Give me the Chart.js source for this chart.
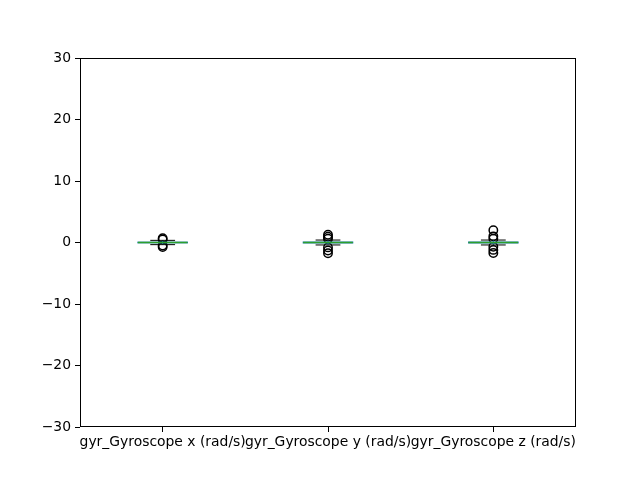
<!DOCTYPE html>
<html>
<head>
<meta charset="utf-8">
<script src="https://cdn.jsdelivr.net/npm/chart.js@4/dist/chart.umd.min.js"></script>
<style>
  html, body { margin: 0; padding: 0; background: #fff; }
  canvas { display: block; }
</style>
</head>
<body>
<canvas id="box-chart" width="640" height="480"></canvas>
<script>
// box statistics per column (rad/s)
const categories = ['gyr_Gyroscope x (rad/s)', 'gyr_Gyroscope y (rad/s)', 'gyr_Gyroscope z (rad/s)'];
const positions = [1, 2, 3];
const lowerWhisker = [-0.35, -0.4, -0.4];
const q1 = [-0.06, -0.08, -0.08];
const median = [0.0, 0.0, 0.0];
const q3 = [0.06, 0.08, 0.08];
const upperWhisker = [0.35, 0.4, 0.4];
const outliers = [
    [0.7, 0.5, -0.5, -0.75],
    [1.25, 0.95, 0.6, -0.8, -1.3, -1.75],
    [2.0, 1.0, 0.6, -0.7, -1.2, -1.7]
];
const yTicks = [-30, -20, -10, 0, 10, 20, 30];

const flierPoints = [];
outliers.forEach((list, i) => {
    list.forEach(v => flierPoints.push({ x: positions[i], y: v }));
});

const boxWidth = 0.3;

// draws boxes, whiskers, caps and medians through the chart's scales
const boxPlugin = {
    id: 'boxes',
    afterDatasetsDraw(chart) {
        const ctx = chart.ctx;
        const xs = chart.scales.x;
        const ys = chart.scales.y;
        ctx.save();
        ctx.lineWidth = 1;
        positions.forEach((p, i) => {
            const left = xs.getPixelForValue(p - boxWidth / 2);
            const right = xs.getPixelForValue(p + boxWidth / 2);
            const capL = xs.getPixelForValue(p - boxWidth / 4);
            const capR = xs.getPixelForValue(p + boxWidth / 4);
            const cx = xs.getPixelForValue(p);
            const yq1 = ys.getPixelForValue(q1[i]);
            const yq3 = ys.getPixelForValue(q3[i]);
            const ylo = ys.getPixelForValue(lowerWhisker[i]);
            const yhi = ys.getPixelForValue(upperWhisker[i]);
            const ymed = ys.getPixelForValue(median[i]);

            // whiskers
            ctx.strokeStyle = '#1f77b4';
            ctx.beginPath();
            ctx.moveTo(cx, yq3); ctx.lineTo(cx, yhi);
            ctx.moveTo(cx, yq1); ctx.lineTo(cx, ylo);
            ctx.stroke();
            // box
            ctx.strokeRect(left, yq3, right - left, yq1 - yq3);
            // caps
            ctx.strokeStyle = '#000000';
            ctx.beginPath();
            ctx.moveTo(capL, yhi); ctx.lineTo(capR, yhi);
            ctx.moveTo(capL, ylo); ctx.lineTo(capR, ylo);
            ctx.stroke();
            // median
            ctx.strokeStyle = '#2ca02c';
            ctx.lineWidth = 1.5;
            ctx.beginPath();
            ctx.moveTo(left, ymed); ctx.lineTo(right, ymed);
            ctx.stroke();
            ctx.lineWidth = 1;
        });
        // frame
        const a = chart.chartArea;
        ctx.strokeStyle = '#000000';
        ctx.strokeRect(Math.round(a.left) + 0.5, Math.round(a.top) + 0.5,
            Math.round(a.right - a.left) - 1, Math.round(a.bottom - a.top) - 1);
        ctx.restore();
    }
};

Chart.defaults.font.family = "'DejaVu Sans', sans-serif";
Chart.defaults.color = '#000000';

new Chart(document.getElementById('box-chart').getContext('2d'), {
    type: 'scatter',
    data: {
        datasets: [{
            label: 'fliers',
            data: flierPoints,
            pointStyle: 'circle',
            pointRadius: 4.2,
            pointBorderColor: '#000000',
            pointBackgroundColor: 'rgba(0,0,0,0)',
            pointBorderWidth: 1.5,
            showLine: false
        }]
    },
    options: {
        responsive: false,
        animation: false,
        events: [],
        layout: { padding: { top: 58, right: 64, left: 0, bottom: 0 } },
        plugins: {
            legend: { display: false },
            tooltip: { enabled: false }
        },
        scales: {
            x: {
                type: 'linear',
                min: 0.5,
                max: 3.5,
                afterBuildTicks(scale) {
                    scale.ticks = positions.map(v => ({ value: v }));
                },
                afterFit(scale) { scale.height = 53; },
                ticks: {
                    autoSkip: false,
                    maxRotation: 0,
                    minRotation: 0,
                    font: { size: 13.9 },
                    padding: 2,
                    callback: (v) => categories[positions.indexOf(v)]
                },
                grid: { display: true, drawOnChartArea: false, drawTicks: true, tickLength: 5, color: '#000000' },
                border: { display: false }
            },
            y: {
                min: -30,
                max: 30,
                afterBuildTicks(scale) {
                    scale.ticks = yTicks.map(v => ({ value: v }));
                },
                afterFit(scale) { scale.width = 80; },
                ticks: {
                    font: { size: 13.9 },
                    padding: 4,
                    callback: (v) => String(v).replace('-', '\u2212')
                },
                grid: { display: true, drawOnChartArea: false, drawTicks: true, tickLength: 5, color: '#000000' },
                border: { display: false }
            }
        }
    },
    plugins: [boxPlugin]
});
</script>
</body>
</html>
